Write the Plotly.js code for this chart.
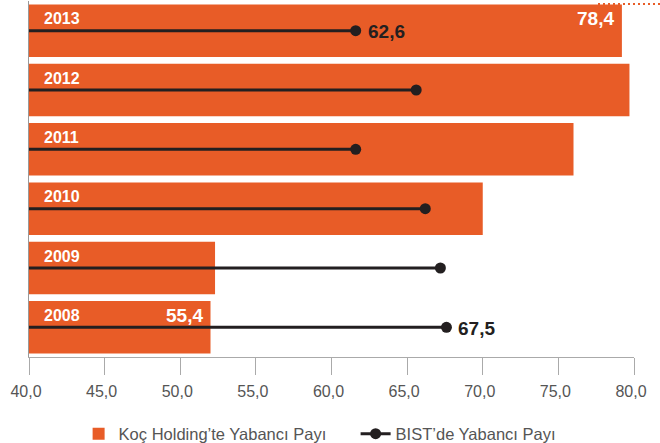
<!DOCTYPE html>
<html>
<head>
<meta charset="utf-8">
<script src="https://cdn.plot.ly/plotly-3.0.1.min.js"></script>
<style>
  html, body { margin: 0; padding: 0; background: #ffffff; }
  #chart { width: 660px; height: 443px; }
</style>
</head>
<body>
<div id="chart"></div>
<script>
// ---- data ----
var years = ['2008', '2009', '2010', '2011', '2012', '2013'];
// Koç Holding'te Yabancı Payı (bar lengths as drawn)
var kocShare = [52.0, 52.3, 70.0, 76.0, 79.7, 79.2];
// BIST'de Yabancı Payı (dot positions as drawn)
var bistShare = [67.6, 67.2, 66.2, 61.6, 65.6, 61.6];
// printed value labels (year -> text)
var kocLabelYears = ['2008', '2013'];
var kocLabelTexts = ['55,4', '78,4'];
var bistLabelYears = ['2008', '2013'];
var bistLabelTexts = ['67,5', '62,6'];
var xTickValues = [40, 45, 50, 55, 60, 65, 70, 75, 80];

var ORANGE = '#E85C27';
var DARK = '#231F20';
var SANS = '"Liberation Sans", Arial, sans-serif';

// build BIST line segments: from 40 to value, one segment per year
var bx = [], by = [], bsize = [];
for (var i = 0; i < years.length; i++) {
  bx.push(40, bistShare[i], null);
  by.push(years[i], years[i], null);
  bsize.push(0, 11, 22); // mean = 11 -> legend marker size
}

var barTrace = {
  type: 'bar',
  orientation: 'h',
  name: 'Koç Holding’te Yabancı Payı',
  y: years,
  x: kocShare.map(function (v) { return v - 40; }),
  base: 40,
  marker: { color: ORANGE, line: { width: 0 } },
  hoverinfo: 'skip'
};

var lineTrace = {
  type: 'scatter',
  mode: 'lines+markers',
  name: 'BIST’de Yabancı Payı',
  x: bx,
  y: by,
  connectgaps: false,
  line: { color: DARK, width: 3 },
  marker: { color: DARK, size: bsize, opacity: 1, line: { width: 0 } },
  cliponaxis: false,
  hoverinfo: 'skip'
};

var annotations = [];
years.forEach(function (yr, idx) {
  annotations.push({
    x: 40, y: idx, xref: 'x', yref: 'y',
    text: yr, showarrow: false,
    xanchor: 'left', yanchor: 'middle',
    xshift: 13, yshift: 12,
    font: { family: SANS, size: 16, color: '#ffffff', weight: 'bold' }
  });
});
kocLabelYears.forEach(function (yr, k) {
  var idx = years.indexOf(yr);
  annotations.push({
    x: kocShare[idx], y: idx, xref: 'x', yref: 'y',
    text: kocLabelTexts[k], showarrow: false,
    xanchor: 'right', yanchor: 'middle',
    xshift: -6, yshift: 12,
    font: { family: SANS, size: 19, color: '#ffffff', weight: 'bold' }
  });
});
bistLabelYears.forEach(function (yr, k) {
  var idx = years.indexOf(yr);
  annotations.push({
    x: bistShare[idx], y: idx, xref: 'x', yref: 'y',
    text: bistLabelTexts[k], showarrow: false,
    xanchor: 'left', yanchor: 'middle',
    xshift: 10, yshift: -1,
    font: { family: SANS, size: 19, color: DARK, weight: 'bold' }
  });
});

var layout = {
  width: 660, height: 443,
  margin: { l: 29, r: 26, t: 1, b: 86, pad: 0, autoexpand: false },
  paper_bgcolor: '#ffffff',
  plot_bgcolor: '#ffffff',
  separators: ',.',
  bargap: 0.115,
  showlegend: true,
  xaxis: {
    range: [40, 80],
    tickvals: xTickValues,
    tickformat: '.1f',
    ticks: 'outside', ticklen: 17, tickwidth: 1, tickcolor: '#aaaaaa',
    showline: true, linecolor: '#aaaaaa', linewidth: 1,
    showgrid: false, zeroline: false,
    ticklabelshift: -3,
    ticklabelstandoff: 3,
    tickfont: { family: SANS, size: 16, color: '#555555' },
    automargin: false,
    fixedrange: true
  },
  yaxis: {
    type: 'category',
    categoryorder: 'array', categoryarray: years,
    range: [-0.5, years.length - 0.5],
    autorange: false,
    showline: true, linecolor: '#999999', linewidth: 1,
    showticklabels: false, ticks: '', showgrid: false, zeroline: false,
    automargin: false,
    fixedrange: true
  },
  legend: {
    orientation: 'h',
    x: 0.082, xanchor: 'left',
    y: -0.167, yanchor: 'top',
    entrywidth: 232,
    font: { family: SANS, size: 16.5, color: '#555555' },
    bgcolor: 'rgba(0,0,0,0)'
  },
  shapes: [{
    type: 'line', xref: 'paper', yref: 'paper',
    x0: 0.9405, x1: 1.043, y0: 0.9916, y1: 0.9916,
    line: { color: ORANGE, width: 2, dash: '2px,3px' }
  }],
  annotations: annotations
};

Plotly.newPlot('chart', [barTrace, lineTrace], layout, { displayModeBar: false, staticPlot: true });
</script>
</body>
</html>
